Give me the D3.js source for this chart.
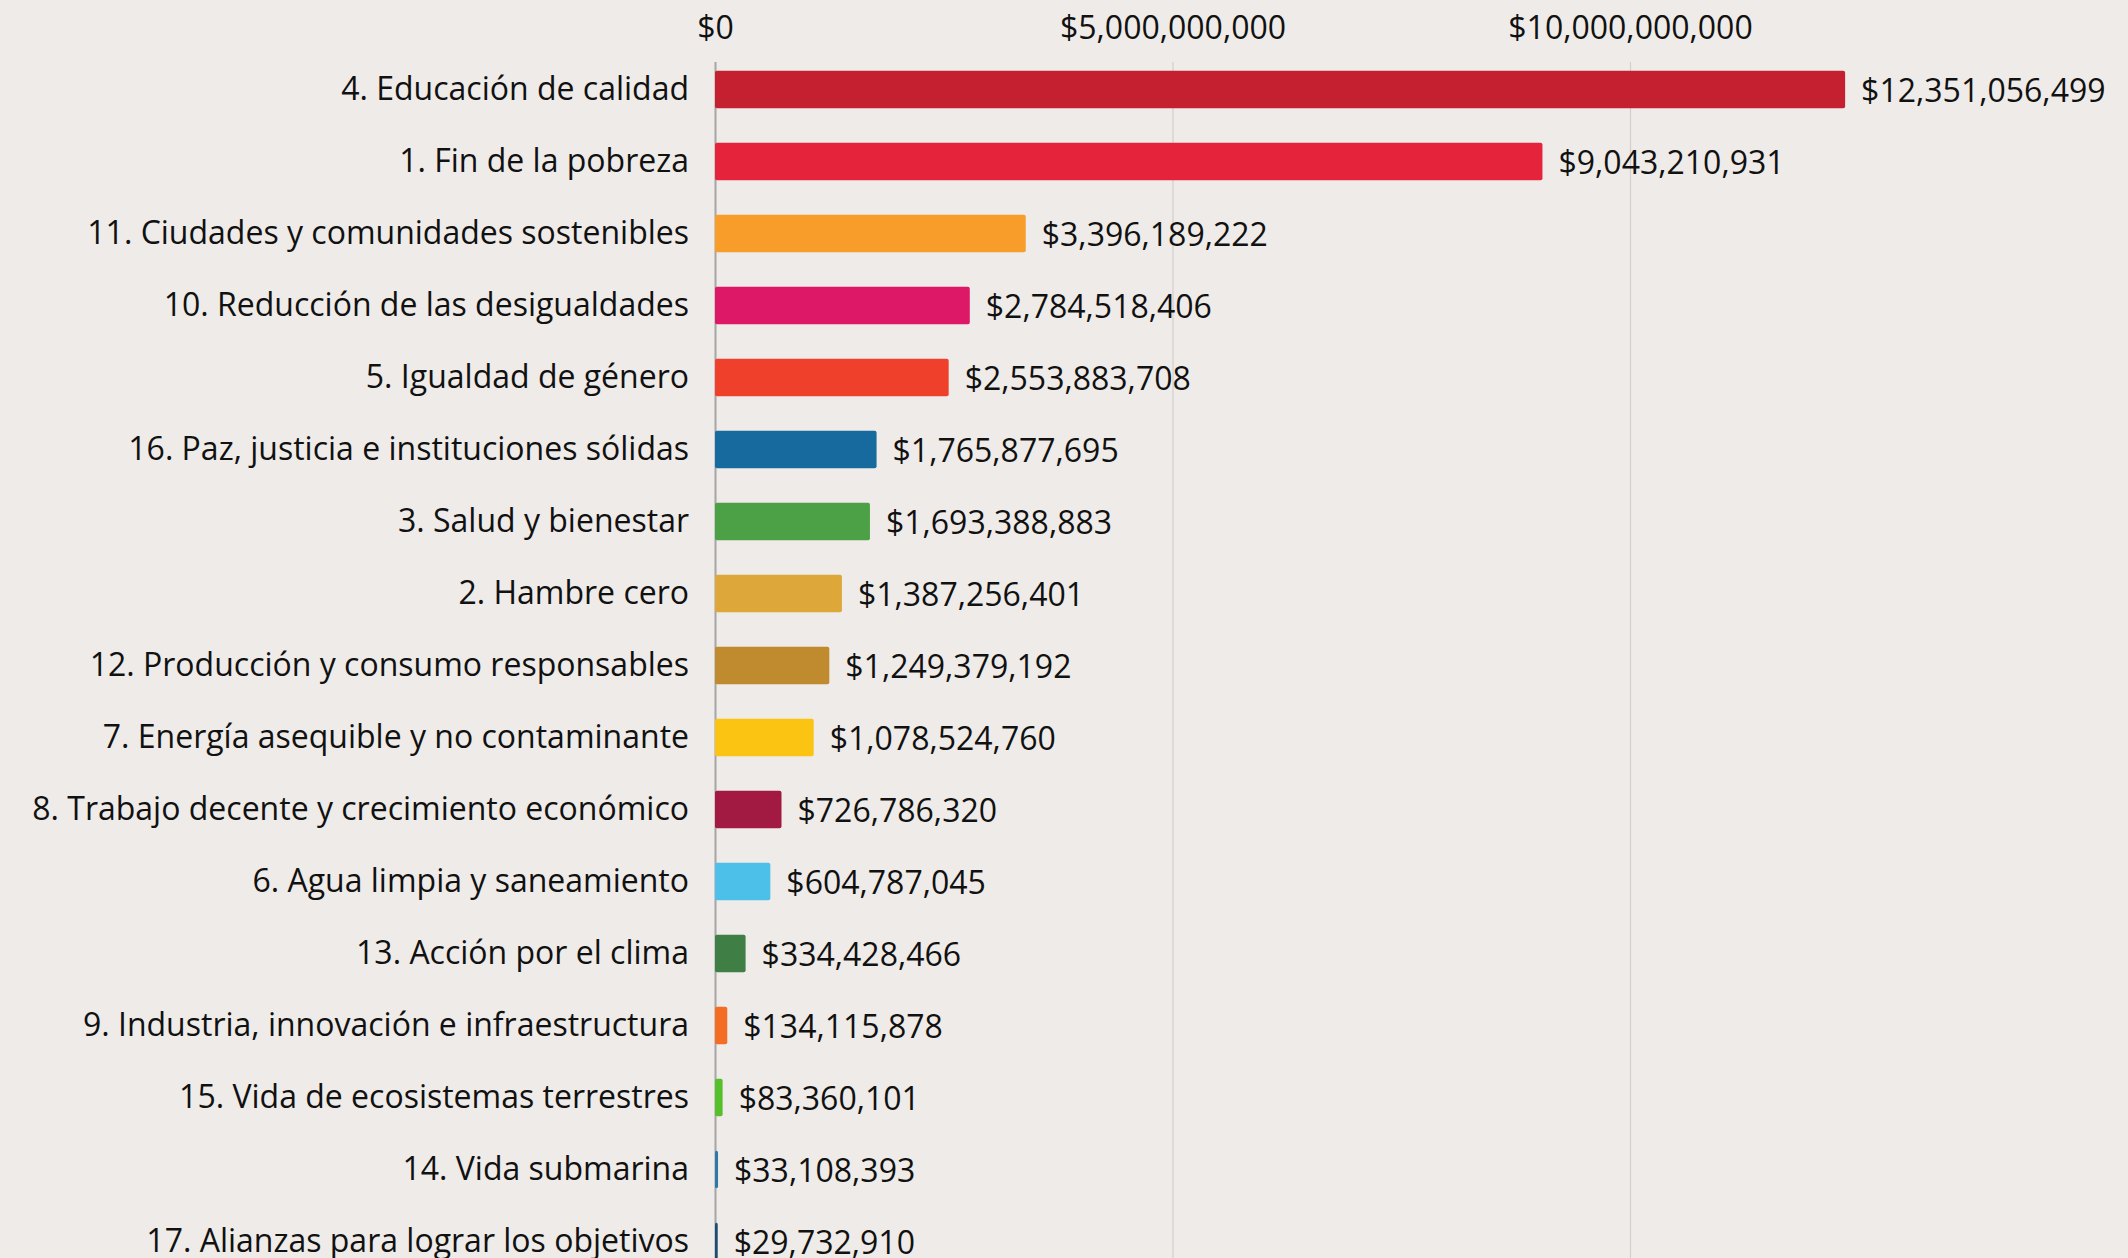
<!DOCTYPE html>
<html>
<head>
<meta charset="utf-8">
<script src="https://cdn.jsdelivr.net/npm/d3@7"></script>
<style>
  html, body { margin: 0; padding: 0; background: #eeebe8; overflow: hidden; }
  svg { display: block; }
</style>
</head>
<body>
<div id="chart"></div>
<script>
const categories = [
    "4. Educación de calidad",
    "1. Fin de la pobreza",
    "11. Ciudades y comunidades sostenibles",
    "10. Reducción de las desigualdades",
    "5. Igualdad de género",
    "16. Paz, justicia e instituciones sólidas",
    "3. Salud y bienestar",
    "2. Hambre cero",
    "12. Producción y consumo responsables",
    "7. Energía asequible y no contaminante",
    "8. Trabajo decente y crecimiento económico",
    "6. Agua limpia y saneamiento",
    "13. Acción por el clima",
    "9. Industria, innovación e infraestructura",
    "15. Vida de ecosistemas terrestres",
    "14. Vida submarina",
    "17. Alianzas para lograr los objetivos"
];
const amounts = [
    12351056499, 9043210931, 3396189222, 2784518406, 2553883708,
    1765877695, 1693388883, 1387256401, 1249379192, 1078524760,
    726786320, 604787045, 334428466, 134115878, 83360101,
    33108393, 29732910
];
const barColors = [
    "#c5202f", "#e5243b", "#f89d2a", "#dd1867", "#ef402b",
    "#166a9e", "#4ca146", "#dea73a", "#bf8b2e", "#fbc412",
    "#a21942", "#4cc0e8", "#3f7e44", "#f36d25", "#56c02b",
    "#2a79a6", "#1a4d70"
];
const tickValues = [0, 5000000000, 10000000000];

const width = 2128, height = 1258;
const x0 = 715;
const fontSize = 32;

const data = categories.map((c, i) => ({ name: c, value: amounts[i], color: barColors[i] }));

const svg = d3.select("#chart").append("svg")
    .attr("width", width)
    .attr("height", height)
    .attr("font-family", "'Open Sans', sans-serif");

svg.append("rect").attr("width", width).attr("height", height).attr("fill", "#eeebe8");

const x = d3.scaleLinear()
    .domain([0, 13000000000])
    .range([x0, x0 + 91.5 * 13]);

const y = d3.scaleBand()
    .domain(categories)
    .range([53.5, 53.5 + 72 * categories.length])
    .paddingInner(0.48)
    .paddingOuter(0.24);

// gridlines
const grid = svg.append("g").attr("transform", `translate(0,62)`)
    .call(d3.axisBottom(x).tickValues(tickValues).tickSize(height).tickFormat(""));
grid.select(".domain").remove();
grid.selectAll("line")
    .attr("stroke", d => d === 0 ? "#a6a6a6" : "#d2cfcc")
    .attr("stroke-width", d => d === 0 ? 2 : 1.2);

// top axis labels
const axis = svg.append("g").attr("transform", "translate(0,39)")
    .call(d3.axisTop(x).tickValues(tickValues).tickSize(0).tickPadding(0)
        .tickFormat(d => "$" + d3.format(",")(d)));
axis.select(".domain").remove();
axis.selectAll("text")
    .attr("font-size", fontSize)
    .attr("font-family", "'Open Sans', sans-serif")
    .attr("fill", "#111")
    .attr("dy", 0);

// bars
svg.append("g").selectAll("rect")
    .data(data)
    .join("rect")
    .attr("x", x(0))
    .attr("y", d => y(d.name))
    .attr("width", d => Math.max(2.5, x(d.value) - x(0)))
    .attr("height", y.bandwidth())
    .attr("rx", 2)
    .attr("fill", d => d.color);

// category labels
svg.append("g").selectAll("text")
    .data(data)
    .join("text")
    .attr("x", x(0) - 26)
    .attr("y", d => y(d.name) + y.bandwidth() / 2 + 1)
    .attr("dy", "0.3em")
    .attr("text-anchor", "end")
    .attr("font-size", fontSize)
    .attr("fill", "#111")
    .text(d => d.name);

// value labels
svg.append("g").selectAll("text")
    .data(data)
    .join("text")
    .attr("x", d => Math.max(x(d.value), x(0) + 2) + 16)
    .attr("y", d => y(d.name) + y.bandwidth() / 2 + 1)
    .attr("dy", "0.35em")
    .attr("font-size", fontSize)
    .attr("fill", "#111")
    .text(d => "$" + d3.format(",")(d.value));
</script>
</body>
</html>
